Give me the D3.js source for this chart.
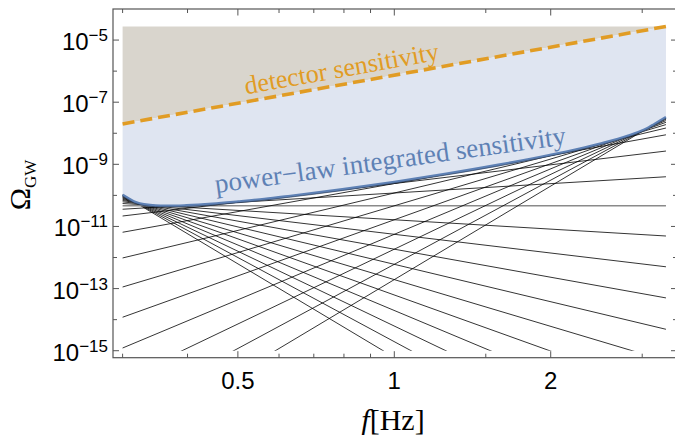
<!DOCTYPE html>
<html>
<head>
<meta charset="utf-8">
<script src="https://cdn.jsdelivr.net/npm/d3@7"></script>
<style>
  html, body { margin: 0; padding: 0; background: #fff; }
  svg { display: block; }
</style>
</head>
<body>
<svg id="chart" width="675" height="435"></svg>
<script>
// ---------------- data ----------------
// power-law lines: slope beta and log10(Omega) at f = 1 Hz
const lineBetas   = [-10, -9, -8, -7, -6, -5, -4, -3, -2, -1, 0, 1, 2, 3, 4, 5, 6, 7, 8, 9, 10];
const lineLogAmp  = [-15.214, -14.709, -14.206, -13.705, -13.206, -12.711, -12.219, -11.732, -11.253, -10.785,
                     -10.335, -9.923, -9.618, -9.618, -9.923, -10.335, -10.785, -11.253, -11.732, -12.219, -12.711];
const bandFreq    = [0.3, 3.333];            // frequency band of the lines [Hz]

// detector sensitivity (dashed)
const detFreq     = [0.3, 3.333];
const detOmega    = [2.0e-8, 2.74e-5];
const omegaTop    = 2.74e-5;                 // upper edge of the shaded region

// power-law integrated sensitivity curve
const pliFreq     = [0.3, 0.309, 0.3162, 0.3236, 0.3388, 0.3548, 0.3802, 0.3981, 0.4467, 0.5012, 0.5623,
                     0.631, 0.7943, 1.0, 1.259, 1.585, 1.995, 2.239, 2.512, 2.818, 3.02, 3.09, 3.162, 3.236, 3.333];
const pliLogOmega = [-9.985, -10.114, -10.205, -10.259, -10.313, -10.332, -10.332, -10.322, -10.272, -10.198, -10.117,
                     -10.018, -9.806, -9.568, -9.306, -9.018, -8.698, -8.522, -8.322, -8.081, -7.892, -7.809, -7.711, -7.611, -7.482];

// ticks
const xTickMajor  = [0.5, 1, 2];
const xTickMinor  = [0.3, 0.4, 0.6, 0.7, 0.8, 0.9, 1.5, 3];
const yTickMajorExp = [-5, -7, -9, -11, -13, -15];
const yTickMinorExp = [-6, -8, -10, -12, -14];
const yClipExp    = -15;

// ---------------- drawing ----------------
const svg = d3.select("#chart");
const L = 113, R = 677, T = 9, B = 357.7;
const x = d3.scaleLog().domain([0.2875, 3.5]).range([L, R]);
const y = d3.scaleLog().domain([Math.pow(10, -15.225), Math.pow(10, -4.0)]).range([B, T]);

const blue = "#5e81b5", orange = "#e19c24";
const serif = "'Liberation Serif', 'DejaVu Serif', serif";
const sans  = "'Liberation Sans', Arial, sans-serif";

const defs = svg.append("defs");
defs.append("clipPath").attr("id", "clipLines").append("rect")
  .attr("x", L).attr("y", T).attr("width", R - L).attr("height", y(Math.pow(10, yClipExp)) - T);

const pliPts = pliFreq.map((f, i) => [f, Math.pow(10, pliLogOmega[i])]);
const detPts = detFreq.map((f, i) => [f, detOmega[i]]);

const lineGen = d3.line().x(d => x(d[0])).y(d => y(d[1]));
const pliGen  = d3.line().x(d => x(d[0])).y(d => y(d[1])).curve(d3.curveMonotoneX);

// beige region: detector line up to top
const beige = d3.area().x(d => x(d[0])).y0(d => y(d[1])).y1(() => y(omegaTop));
svg.append("path").attr("d", beige(detPts)).attr("fill", "#d9d5cd");

// blue region: between PLI curve and detector line
const bluePath = pliGen(pliPts) + lineGen(detPts.slice().reverse()).replace(/^M/, "L") + "Z";
svg.append("path").attr("d", bluePath).attr("fill", "#dfe5f1");

// power-law lines
const gLines = svg.append("g").attr("clip-path", "url(#clipLines)");
lineBetas.forEach((b, i) => {
  const pts = bandFreq.map(f => [f, Math.pow(10, lineLogAmp[i] + b * Math.log10(f))]);
  gLines.append("path").attr("d", lineGen(pts))
    .attr("fill", "none")
    .attr("stroke", b === 0 ? "#8a8a8a" : "#000")
    .attr("stroke-width", b === 0 ? 1.6 : 0.8);
});

// PLI curve
svg.append("path").attr("d", pliGen(pliPts))
  .attr("fill", "none").attr("stroke", blue).attr("stroke-width", 2.6);
svg.append("path").attr("d", pliGen(pliPts)).attr("transform", "translate(0,1.2)")
  .attr("fill", "none").attr("stroke", "#1e2c44").attr("stroke-width", 0.7).attr("opacity", 0.8);

// detector sensitivity dashed line
svg.append("path").attr("d", lineGen(detPts))
  .attr("fill", "none").attr("stroke", orange).attr("stroke-width", 3.6)
  .attr("stroke-dasharray", "12,6");

// in-plot labels
const angDet = Math.atan2(y(detOmega[1]) - y(detOmega[0]), x(detFreq[1]) - x(detFreq[0])) * 180 / Math.PI;
svg.append("text")
  .attr("transform", `translate(343,77) rotate(${angDet})`)
  .attr("text-anchor", "middle").attr("font-family", serif).attr("font-size", 26)
  .attr("fill", orange).text("detector sensitivity");

svg.append("text")
  .attr("transform", "translate(391.5,168.6) rotate(-7.9)")
  .attr("text-anchor", "middle").attr("font-family", serif).attr("font-size", 27)
  .attr("fill", blue).text("power\u2212law integrated sensitivity");

// frame
const frameColor = "#555";
svg.append("rect").attr("x", L).attr("y", T).attr("width", R - L).attr("height", B - T)
  .attr("fill", "none").attr("stroke", frameColor).attr("stroke-width", 1.2);

const gt = svg.append("g").attr("stroke", frameColor).attr("stroke-width", 1);
xTickMajor.concat(xTickMinor).forEach(v => {
  const len = xTickMajor.includes(v) ? 6.5 : 4;
  gt.append("line").attr("x1", x(v)).attr("x2", x(v)).attr("y1", B).attr("y2", B - len);
  gt.append("line").attr("x1", x(v)).attr("x2", x(v)).attr("y1", T).attr("y2", T + len);
});
yTickMajorExp.concat(yTickMinorExp).forEach(e => {
  const len = yTickMajorExp.includes(e) ? 6 : 4;
  const yy = y(Math.pow(10, e));
  gt.append("line").attr("x1", L).attr("x2", L + len).attr("y1", yy).attr("y2", yy);
  gt.append("line").attr("x1", R).attr("x2", R - len).attr("y1", yy).attr("y2", yy);
});

// tick labels
xTickMajor.forEach(v => {
  svg.append("text").attr("x", x(v)).attr("y", 389)
    .attr("text-anchor", "middle").attr("font-family", sans).attr("font-size", 24)
    .attr("fill", "#000").text(d3.format("~g")(v));
});
yTickMajorExp.forEach(e => {
  const t = svg.append("text").attr("x", 108).attr("y", y(Math.pow(10, e)) + 10)
    .attr("text-anchor", "end").attr("font-family", sans).attr("font-size", 24).attr("fill", "#000");
  t.append("tspan").text("10");
  t.append("tspan").attr("dy", -9).attr("font-size", 17).text("\u2212" + Math.abs(e));
});

// axis labels
const xl = svg.append("text").attr("x", 393).attr("y", 430).attr("text-anchor", "middle")
  .attr("font-family", serif).attr("font-size", 30).attr("fill", "#000");
xl.append("tspan").attr("font-style", "italic").text("f");
xl.append("tspan").text("[Hz]");

const yl = svg.append("text").attr("transform", "translate(30,185) rotate(-90)")
  .attr("text-anchor", "middle").attr("font-family", serif).attr("font-size", 30).attr("fill", "#000");
yl.append("tspan").text("\u03A9");
yl.append("tspan").attr("dy", 6).attr("font-size", 17).text("GW");
</script>
</body>
</html>
